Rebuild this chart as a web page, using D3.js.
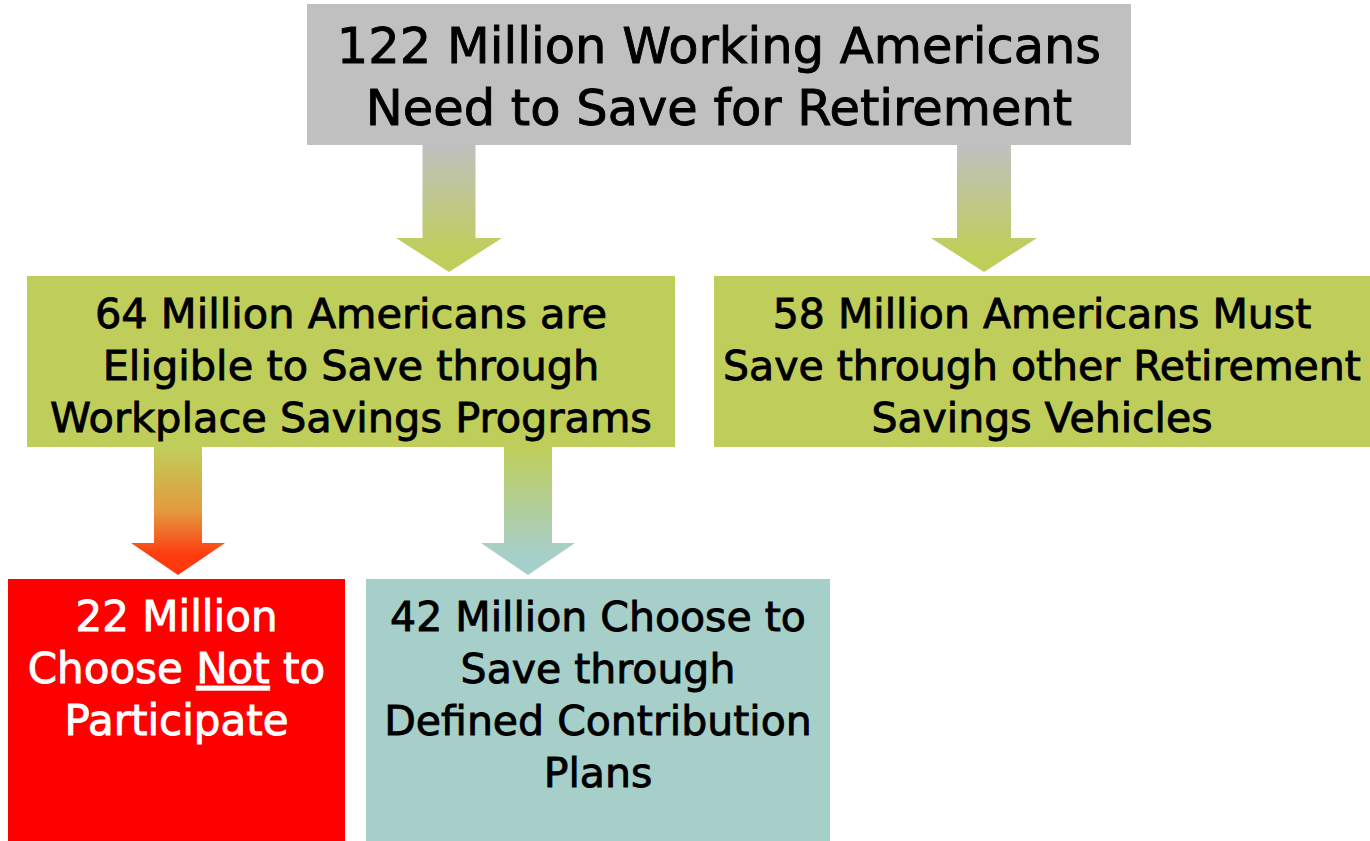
<!DOCTYPE html>
<html>
<head>
<meta charset="utf-8">
<script src="https://cdn.jsdelivr.net/npm/d3@7"></script>
<style>
  html, body { margin: 0; padding: 0; background: #ffffff; }
  svg { display: block; }
</style>
</head>
<body>
<svg id="chart" width="1370" height="841"></svg>
<script>
// Counts of working Americans (millions) at each step of the savings flow
const nodeIds    = ["all", "eligible", "other", "notParticipating", "dcPlans"];
const nodeValues = [122, 64, 58, 22, 42];
const nodeLines  = [
  ["{v} Million Working Americans", "Need to Save for Retirement"],
  ["{v} Million Americans are", "Eligible to Save through", "Workplace Savings Programs"],
  ["{v} Million Americans Must", "Save through other Retirement", "Savings Vehicles"],
  ["{v} Million", "Choose {u}Not{/u} to", "Participate"],
  ["{v} Million Choose to", "Save through", "Defined Contribution", "Plans"]
];
const links = [
  ["all", "eligible"],
  ["all", "other"],
  ["eligible", "notParticipating"],
  ["eligible", "dcPlans"]
];

// Layout: box rectangles, label placement and arrow geometry
const layout = {
  all:              { x0: 307, x1: 1131, y0: 4,   y1: 145, fill: "#c0c0c0", text: "#000000", size: 49.5, lh: 62, first: 63 },
  eligible:         { x0: 27,  x1: 675,  y0: 276, y1: 447, fill: "#bfce5a", text: "#000000", size: 41.5, lh: 52, first: 328 },
  other:            { x0: 714, x1: 1370, y0: 276, y1: 447, fill: "#bfce5a", text: "#000000", size: 41, lh: 52, first: 328 },
  notParticipating: { x0: 8,   x1: 345,  y0: 579, y1: 841, fill: "#ff0000", text: "#ffffff", size: 42, lh: 52, first: 631 },
  dcPlans:          { x0: 366, x1: 830,  y0: 579, y1: 841, fill: "#a6cfca", text: "#000000", size: 41, lh: 52, first: 631 }
};
const arrows = {
  "all-eligible":              { cx: 449, shaft: 26.5, head: 53, headH: 34 },
  "all-other":                 { cx: 984, shaft: 27,   head: 53, headH: 34 },
  "eligible-notParticipating": { cx: 178, shaft: 24,   head: 47, headH: 32 },
  "eligible-dcPlans":          { cx: 528, shaft: 24,   head: 47, headH: 32 }
};

const svg = d3.select("#chart");
const defs = svg.append("defs");

// Arrows: gradient from the parent's colour to the child's colour
links.forEach(([from, to]) => {
  const a = layout[from], b = layout[to];
  const key = from + "-" + to;
  const A = arrows[key];
  const top = a.y1, tip = b.y0 - 4;
  const headTop = tip - A.headH;
  const gid = "grad-" + key;
  const midColor = to === "notParticipating" ? "#e39a3e" : null;
  const endColor = to === "notParticipating" ? "#ff3a0f" : b.fill;
  const g = defs.append("linearGradient").attr("id", gid)
    .attr("gradientUnits", "userSpaceOnUse")
    .attr("x1", 0).attr("y1", top).attr("x2", 0).attr("y2", tip);
  g.append("stop").attr("offset", "0%").attr("stop-color", a.fill);
  if (midColor) g.append("stop").attr("offset", "50%").attr("stop-color", midColor);
  g.append("stop").attr("offset", "85%").attr("stop-color", endColor);
  g.append("stop").attr("offset", "100%").attr("stop-color", endColor);

  const path = d3.path();
  path.moveTo(A.cx - A.shaft, top);
  path.lineTo(A.cx + A.shaft, top);
  path.lineTo(A.cx + A.shaft, headTop);
  path.lineTo(A.cx + A.head, headTop);
  path.lineTo(A.cx, tip);
  path.lineTo(A.cx - A.head, headTop);
  path.lineTo(A.cx - A.shaft, headTop);
  path.closePath();
  svg.append("path").attr("d", path.toString()).attr("fill", `url(#${gid})`);
});

// Boxes with centred multi-line labels
nodeIds.forEach((id, i) => {
  const L = layout[id];
  svg.append("rect")
    .attr("x", L.x0).attr("y", L.y0)
    .attr("width", L.x1 - L.x0).attr("height", L.y1 - L.y0)
    .attr("fill", L.fill);

  const text = svg.append("text")
    .attr("text-anchor", "middle")
    .attr("font-family", "'DejaVu Sans', sans-serif")
    .attr("font-size", L.size)
    .attr("fill", L.text)
    .attr("stroke", L.text)
    .attr("stroke-width", 0.9);

  nodeLines[i].forEach((raw, j) => {
    const line = raw.replace("{v}", nodeValues[i]);
    const y = L.first + j * L.lh;
    const parts = line.split(/(\{u\}.*?\{\/u\})/).filter(s => s.length);
    const t = text.append("tspan").attr("x", (L.x0 + L.x1) / 2).attr("y", y);
    parts.forEach(p => {
      const m = p.match(/^\{u\}(.*)\{\/u\}$/);
      t.append("tspan")
        .attr("text-decoration", m ? "underline" : null)
        .text(m ? m[1] : p);
    });
  });
});
</script>
</body>
</html>
